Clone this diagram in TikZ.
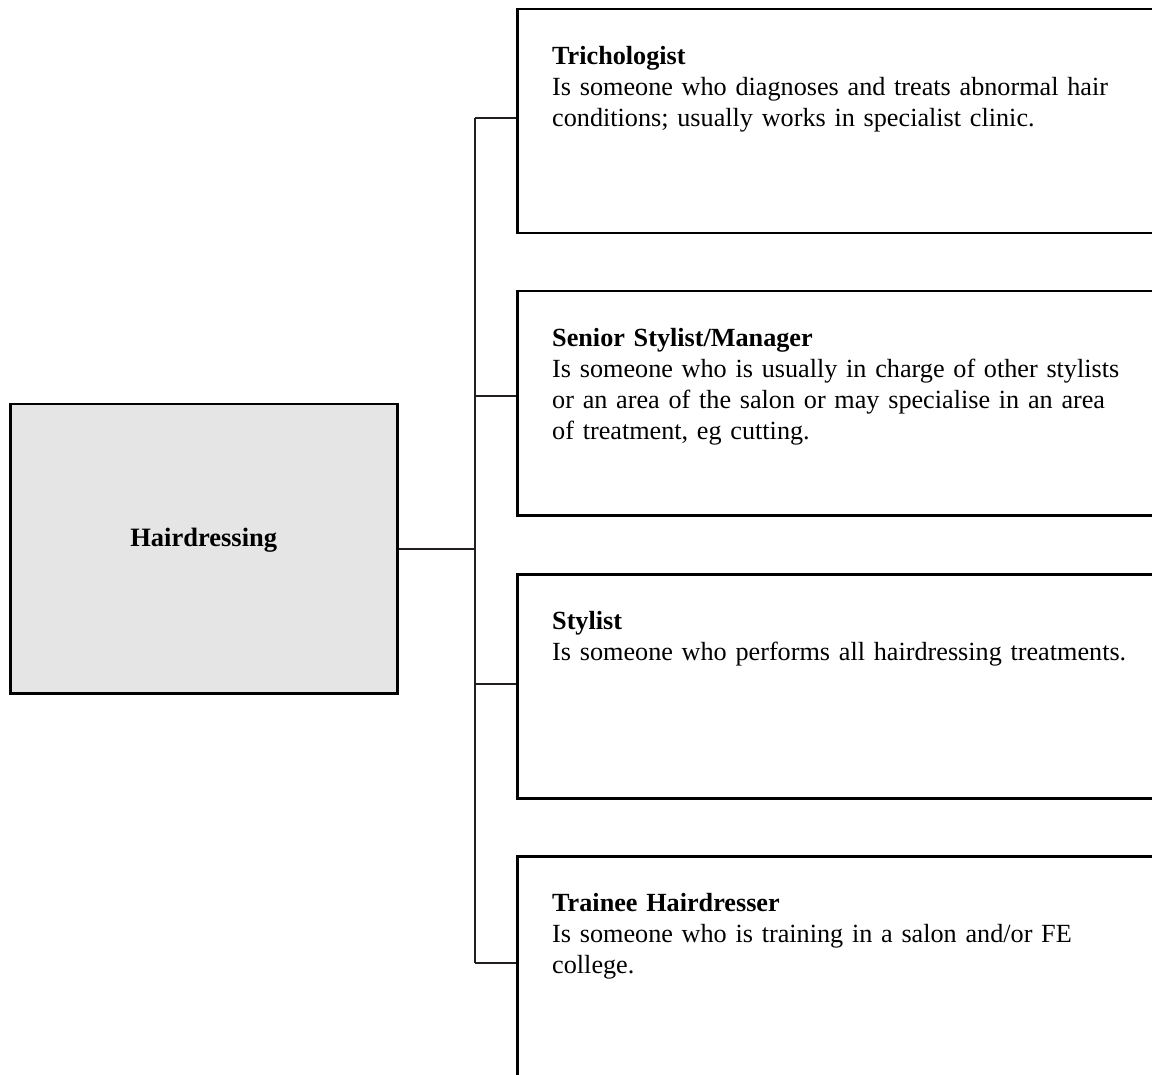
\documentclass[tikz,border=0pt]{standalone}
\usepackage{fontspec}
\setmainfont{Liberation Serif}
\begin{document}
\begin{tikzpicture}[x=1pt,y=-1pt,
  rolebox/.style={draw=black,line width=2.5pt,anchor=north west,inner sep=0pt,minimum width=700pt,minimum height=224pt},
  hubbox/.style={draw=black,line width=2.5pt,fill=hubgray,anchor=north west,inner sep=0pt,minimum width=387pt,minimum height=289pt},
  conn/.style={draw=conncol,line width=2pt},
  desc/.style={anchor=north west,inner sep=0pt,align=left,text width=600pt,font=\fontsize{26.2}{31}\selectfont},
  hublabel/.style={anchor=base,inner sep=0pt,font=\fontsize{26.5}{31}\selectfont\bfseries}]
\definecolor{hubgray}{HTML}{E5E5E5}
\definecolor{conncol}{HTML}{231F20}
\useasboundingbox (0,0) rectangle (1152,1075);
\clip (0,0) rectangle (1152,1075);
\fill[white] (0,0) rectangle (1152,1075);

\node[hubbox] (hub) at (9,403) {};
\node[hublabel,yshift=2pt] (hl) at (hub.center) {Hairdressing};

\node[rolebox] (b1) at (516,8) {};
\node[rolebox] (b2) at (516,290) {};
\node[rolebox] (b3) at (516,573) {};
\node[rolebox] (b4) at (516,855) {};

\node[desc] (d1) at (552,42.3) {\strut\textbf{Trichologist}\\Is someone who diagnoses and treats abnormal hair\\conditions; usually works in specialist clinic.};
\node[desc] (d2) at (552,324.3) {\strut\textbf{Senior Stylist/Manager}\\Is someone who is usually in charge of other stylists\\or an area of the salon or may specialise in an area\\of treatment, eg cutting.};
\node[desc] (d3) at (552,607.3) {\strut\textbf{Stylist}\\Is someone who performs all hairdressing treatments.};
\node[desc] (d4) at (552,889.3) {\strut\textbf{Trainee Hairdresser}\\Is someone who is training in a salon and/or FE\\college.};

\coordinate (t1) at (475,118);
\coordinate (t2) at (475,396);
\coordinate (t3) at (475,684);
\coordinate (t4) at (475,963);
\coordinate (j) at (hub.east -| t1);
\draw[conn] (hub.east) -- (j);
\draw[conn] (t1) -- (t4);
\draw[conn] (t1) -- (t1 -| b1.west);
\draw[conn] (t2) -- (t2 -| b2.west);
\draw[conn] (t3) -- (t3 -| b3.west);
\draw[conn] (t4) -- (t4 -| b4.west);
\end{tikzpicture}
\end{document}
